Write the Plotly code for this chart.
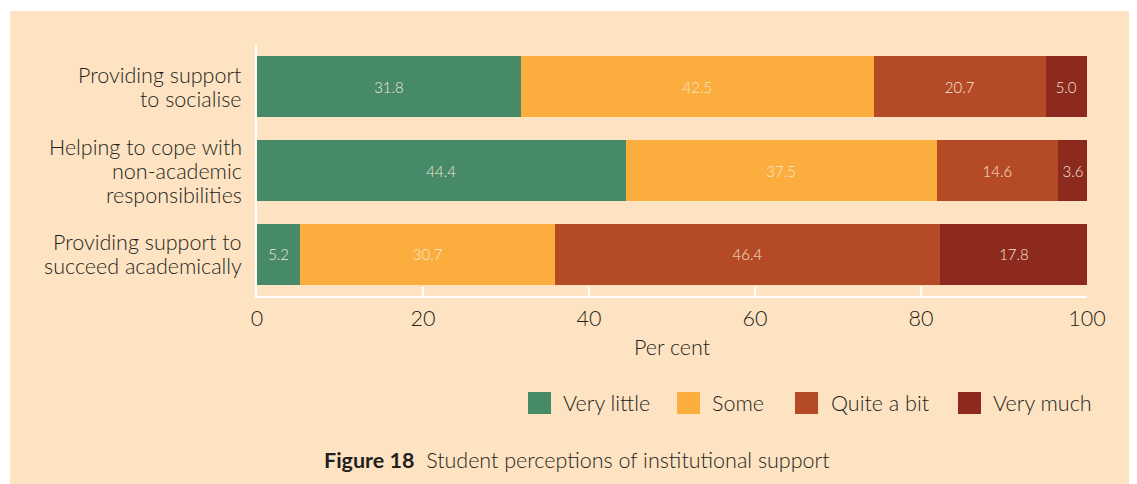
import plotly.graph_objects as go

categories = ["Providing support<br>to socialise",
              "Helping to cope with<br>non-academic<br>responsibilities",
              "Providing support to<br>succeed academically"]
series_names = ["Very little", "Some", "Quite a bit", "Very much"]
very_little = [31.8, 44.4, 5.2]
some = [42.5, 37.5, 30.7]
quite_a_bit = [20.7, 14.6, 46.4]
very_much = [5.0, 3.6, 17.8]
colors = ["#468A68", "#FBAE3D", "#B54A26", "#8C2A1D"]
x_ticks = [0, 20, 40, 60, 80, 100]

BG = "#FEE3C2"
TXT = "#231F20"
FONT = "Lato"
FS = 21.5
W = 300

# page body has an 8px margin; compensate so the figure fills the 1137x484 view
L, R, T, B = 249, 50, 37, 188
FW, FH = 1129, 476
PW = FW - L - R
PH = FH - T - B
OFF = 8  # page offset


def px_x(px):  # page pixel x -> paper
    return (px - OFF - L) / PW


def px_y(py):  # page pixel y -> paper
    return (FH - B - (py - OFF)) / PH


fig = go.Figure()
for name, vals, col in zip(series_names, [very_little, some, quite_a_bit, very_much], colors):
    fig.add_trace(go.Bar(
        y=categories, x=vals, orientation="h", name=name,
        marker=dict(color=col, line=dict(width=0)),
        text=[f"{v:.1f}" for v in vals], textposition="inside",
        insidetextanchor="middle", textangle=0,
        insidetextfont=dict(family=FONT, size=15, color="#F8E6D8", weight=W),
        showlegend=False, hoverinfo="skip",
    ))

shapes = [dict(type="rect", xref="paper", yref="paper", layer="below",
               x0=px_x(10), x1=1.2, y0=-1.0, y1=px_y(11),
               fillcolor=BG, line=dict(width=0))]
annotations = [dict(text="<b>Figure 18</b>  Student perceptions of institutional support",
                    xref="paper", yref="paper", x=px_x(577), y=px_y(460),
                    xanchor="center", yanchor="middle", showarrow=False,
                    font=dict(family=FONT, size=FS, color=TXT, weight=W))]

# category labels (multi-line, tighter line spacing than plotly tick labels)
LINE = 24
for cat in categories:
    lines = cat.split("<br>")
    n = len(lines)
    for i, ln in enumerate(lines):
        annotations.append(dict(
            text=ln, xref="paper", yref="y", x=0, y=cat, xanchor="right", yanchor="middle",
            xshift=-13, yshift=((n - 1) / 2 - i) * LINE, showarrow=False,
            font=dict(family=FONT, size=FS, color=TXT, weight=W)))

# legend drawn manually (larger swatches)
sw_left = [528, 677, 795, 958]
txt_left = [561, 710, 829, 991]
for name, col, sx, tx in zip(series_names, colors, sw_left, txt_left):
    shapes.append(dict(type="rect", xref="paper", yref="paper",
                       x0=px_x(sx), x1=px_x(sx + 23), y0=px_y(414), y1=px_y(392),
                       fillcolor=col, line=dict(width=0)))
    annotations.append(dict(text=name, xref="paper", yref="paper", x=px_x(tx), y=px_y(403),
                            xanchor="left", yanchor="middle", showarrow=False,
                            font=dict(family=FONT, size=FS, color=TXT, weight=W)))

fig.update_layout(
    width=FW, height=FH,
    paper_bgcolor="white", plot_bgcolor=BG,
    barmode="stack", bargap=0.27, showlegend=False,
    margin=dict(l=L, r=R, t=T, b=B, autoexpand=False),
    font=dict(family=FONT, color=TXT, size=FS, weight=W),
    shapes=shapes, annotations=annotations,
)
fig.update_xaxes(range=[0, 100], tickvals=x_ticks, ticks="inside", ticklen=9, tickwidth=2,
                 tickcolor="white", showline=True, linecolor="white", linewidth=2,
                 showgrid=False, zeroline=False, tickfont=dict(size=FS, color=TXT, weight=W),
                 title=dict(text="Per cent", font=dict(size=FS, color=TXT, weight=W), standoff=10),
                 ticklabelstandoff=2)
fig.update_yaxes(categoryorder="array", categoryarray=categories, autorange="reversed",
                 showline=True, linecolor="white", linewidth=2, ticks="", showgrid=False,
                 showticklabels=False)

fig.write_html("out.html")
